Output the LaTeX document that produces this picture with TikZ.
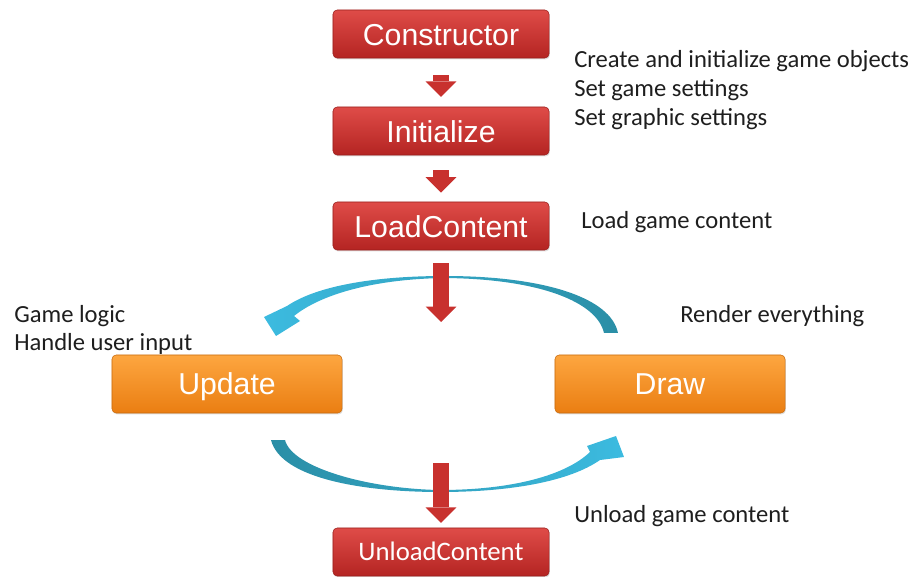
\documentclass[tikz,border=0pt]{standalone}
\usepackage{fontspec}
\setmainfont{Carlito}
\newfontfamily\boxfont{Liberation Sans}
\usetikzlibrary{arrows.meta,shadows}
\definecolor{StepRedTop}{HTML}{DF4C48}
\definecolor{StepRedBot}{HTML}{B42422}
\definecolor{StepOrangeTop}{HTML}{FDA640}
\definecolor{StepOrangeBot}{HTML}{EA7E12}
\definecolor{FlowRed}{HTML}{C8312E}
\definecolor{LoopTeal}{HTML}{2A8EA6}
\definecolor{LoopCyan}{HTML}{3CBBE0}
\definecolor{LoopPale}{HTML}{B9DEE9}
\definecolor{NoteText}{HTML}{1E1E1E}

\begin{document}
\begin{tikzpicture}[
  x=0.025cm,y=-0.025cm,
  stepred/.style={
    rounded corners=3pt,
    top color=StepRedTop,
    bottom color=StepRedBot,
    draw=StepRedBot!85!black,
    line width=0.4pt,
    minimum width=5.4cm,
    minimum height=1.2cm,
    text=white,
    text height=16pt,
    text depth=0pt,
    font=\boxfont\fontsize{21.5}{24}\selectfont,
    drop shadow={opacity=0.25,shadow xshift=0.6pt,shadow yshift=-1pt}
  },
  steporange/.style={
    stepred,
    top color=StepOrangeTop,
    bottom color=StepOrangeBot,
    draw=StepOrangeBot!85!black,
    minimum width=5.75cm,
    minimum height=1.45cm,
    text height=15.4pt
  },
  flow/.style={
    -{Triangle[width=22pt,length=11pt,line width=0pt]},
    line width=12pt,
    draw=FlowRed
  },
  looptop/.style={
    left color=LoopCyan,
    middle color=LoopPale,
    right color=LoopTeal
  },
  loopbottom/.style={
    left color=LoopTeal,
    middle color=LoopPale,
    right color=LoopCyan
  },
  sidenote/.style={
    anchor=west,
    align=left,
    inner sep=0pt,
    font=\fontsize{17.5}{20.5}\selectfont,
    text=NoteText
  }
]
\useasboundingbox (0,0) rectangle (910,577);

% -------------------------------------------------
% Start-up steps
% -------------------------------------------------
\node[stepred] (ctor) at (441,34) {Constructor};
\node[stepred] (init) at (441,131) {Initialize};
\node[stepred] (load) at (441,226) {LoadContent};

\node[sidenote] (ctornote) at (574,90)
{Create and initialize game objects\\Set game settings\\Set graphic settings};
\node[sidenote] (loadnote) at (581,222) {Load game content};

% -------------------------------------------------
% Game loop
% -------------------------------------------------
\node[steporange] (update) at (227,384) {Update};
\node[steporange] (draw) at (670,384) {Draw};

\node[sidenote] (updatenote) at (14,330) {Game logic\\Handle user input};
\node[sidenote] (drawnote) at (680,316) {Render everything};

% Draw -> Update (upper arc)
\shade[looptop] (618,333) .. controls (611,298) and (545,276) .. (445,276)
  .. controls (370,276) and (315,287) .. (287,306)
  -- (264,317) -- (276,336) -- (300,321) -- (294,316)
  .. controls (320,295) and (372,279) .. (445,278)
  .. controls (540,279) and (597,302) .. (604,333) -- cycle;

% Update -> Draw (lower arc)
\shade[loopbottom] (271,440) -- (285,440)
  .. controls (292,468) and (370,489) .. (440,490)
  .. controls (510,490) and (565,476) .. (590,452)
  -- (587,446) -- (616,436) -- (624,457) -- (600,460)
  .. controls (570,481) and (512,492) .. (440,492)
  .. controls (365,492) and (281,479) .. (271,440) -- cycle;

% -------------------------------------------------
% Shut-down step
% -------------------------------------------------
\node[stepred, font=\fontsize{19}{22}\selectfont, text height=12.5pt] (unload) at (441,552) {UnloadContent};
\node[sidenote] (unloadnote) at (574,516) {Unload game content};

\coordinate (loopin) at (441,322);
\coordinate (loopout) at (441,463);

\draw[flow, shorten <=12pt, shorten >=7pt] (ctor) -- (init);
\draw[flow, shorten <=10.6pt, shorten >=6.4pt] (init) -- (load);
\draw[flow, shorten <=9.2pt] (load) -- (loopin);
\draw[flow, shorten >=3.5pt] (loopout) -- (unload);

\end{tikzpicture}
\end{document}
